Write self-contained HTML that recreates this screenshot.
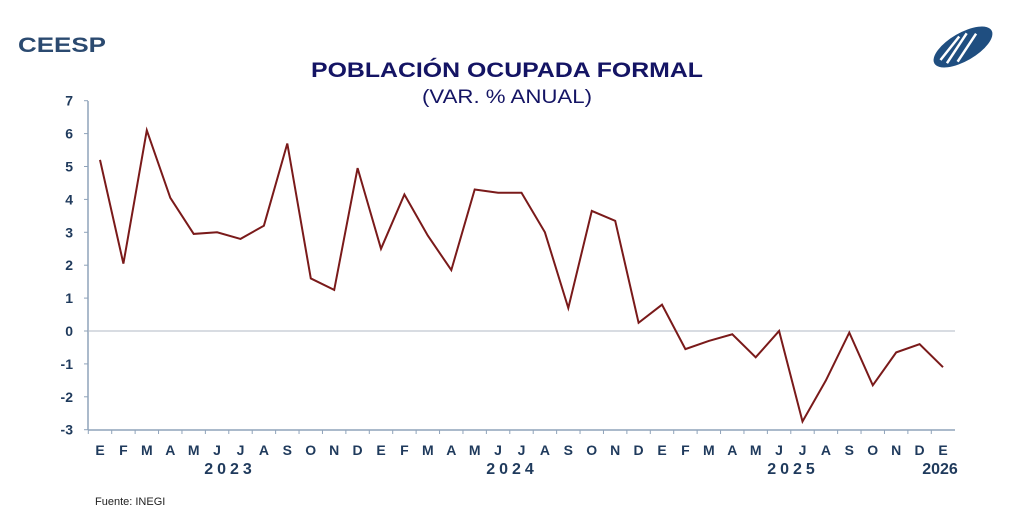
<!DOCTYPE html>
<html><head><meta charset="utf-8"><style>
body{margin:0;background:#fff;width:1024px;height:526px;overflow:hidden}
svg{display:block}
</style></head><body>
<svg id="s" width="1024" height="526" xmlns="http://www.w3.org/2000/svg" font-family="Liberation Sans, sans-serif">
<text x="18" y="52" font-size="21" font-weight="bold" fill="#2b4a70" textLength="88" lengthAdjust="spacingAndGlyphs">CEESP</text>
<g transform="translate(963,47) rotate(-30)">
<ellipse cx="0" cy="0" rx="33" ry="14" fill="#1f4e80"/>
<path d="M-22,6 L10,-10 M-12,10 L18,-5 M-26,0 L2,-11" stroke="#fff" stroke-width="2.5" fill="none"/>
</g>
<text x="507" y="77" font-size="21" font-weight="bold" fill="#141464" text-anchor="middle" textLength="392" lengthAdjust="spacingAndGlyphs">POBLACIÓN OCUPADA FORMAL</text>
<text x="507" y="103" font-size="19" fill="#141464" text-anchor="middle" textLength="170" lengthAdjust="spacingAndGlyphs">(VAR. % ANUAL)</text>
<g id="g"></g>
<text x="95" y="505" font-size="11" fill="#222">Fuente: INEGI</text>
</svg>
<script>
var g=document.getElementById('g'),h='';
var x0=100,dx=843/36,y0=331,dy=32.9;
function Y(v){return y0-v*dy}
h+='<line x1="88" y1="101" x2="88" y2="430" stroke="#8fa3ba" stroke-width="1.5"/>';
h+='<line x1="88" y1="430" x2="955" y2="430" stroke="#8fa3ba" stroke-width="1.5"/>';
h+='<line x1="88" y1="331" x2="955" y2="331" stroke="#b0b8c4" stroke-width="1"/>';
for(var v=-3;v<=7;v++){var y=Y(v);h+='<line x1="84" y1="'+y+'" x2="88" y2="'+y+'" stroke="#8fa3ba"/>';
h+='<text x="73" y="'+(y+5)+'" font-size="14" font-weight="bold" fill="#1f3a5c" text-anchor="end">'+v+'</text>';}
var m="EFMAMJJASOND";
for(var i=0;i<37;i++){var x=x0+i*dx;
h+='<line x1="'+(x-dx/2)+'" y1="430" x2="'+(x-dx/2)+'" y2="434" stroke="#8fa3ba"/>';
h+='<text x="'+x+'" y="455" font-size="14" font-weight="bold" fill="#1f3a5c" text-anchor="middle">'+m[i%12]+'</text>';}
h+='<text x="230" y="474" font-size="16" font-weight="bold" fill="#1f3a5c" text-anchor="middle" letter-spacing="4">2023</text>';
h+='<text x="512" y="474" font-size="16" font-weight="bold" fill="#1f3a5c" text-anchor="middle" letter-spacing="4">2024</text>';
h+='<text x="793" y="474" font-size="16" font-weight="bold" fill="#1f3a5c" text-anchor="middle" letter-spacing="4">2025</text>';
h+='<text x="940" y="474" font-size="16" font-weight="bold" fill="#1f3a5c" text-anchor="middle">2026</text>';
var d=[5.2,2.05,6.1,4.05,2.95,3.0,2.8,3.2,5.7,1.6,1.25,4.95,2.5,4.15,2.9,1.85,4.3,4.2,4.2,3.0,0.7,3.65,3.35,0.25,0.8,-0.55,-0.3,-0.1,-0.8,0.0,-2.75,-1.5,-0.05,-1.65,-0.65,-0.4,-1.1];
var p=d.map(function(v,i){return (x0+i*dx).toFixed(1)+','+Y(v).toFixed(1)}).join(' ');
h+='<polyline points="'+p+'" fill="none" stroke="#7a1a1a" stroke-width="2"/>';
g.innerHTML=h;
</script>
</body></html>
